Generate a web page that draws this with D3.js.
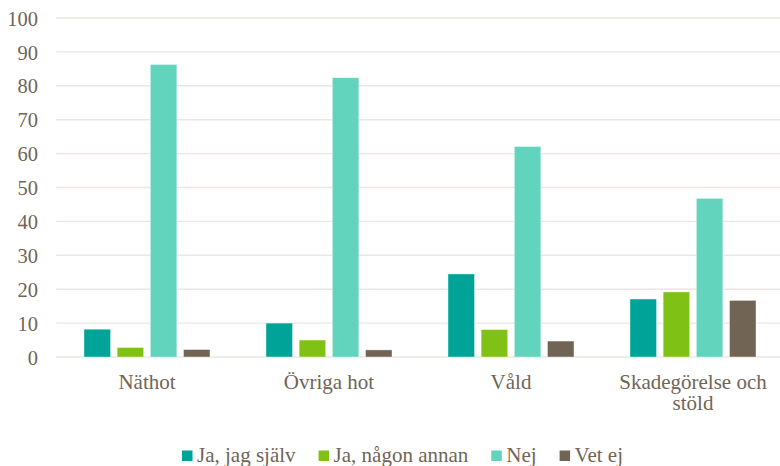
<!DOCTYPE html>
<meta charset="utf-8">
<body style="margin:0">
<script src="https://d3js.org/d3.v7.min.js"></script>
<script>

// Chart data
var categories = ['Näthot', 'Övriga hot', 'Våld', 'Skadegörelse och stöld'];
var categoryLines = [['Näthot'], ['Övriga hot'], ['Våld'], ['Skadegörelse och', 'stöld']];
var seriesNames = ['Ja, jag själv', 'Ja, någon annan', 'Nej', 'Vet ej'];
var jaSjalv = [8.2, 10.0, 24.5, 17.1];
var jaAnnan = [2.8, 5.0, 8.1, 19.2];
var nej = [86.3, 82.4, 62.1, 46.8];
var vetEj = [2.2, 2.1, 4.7, 16.7];
var yTicks = [0, 10, 20, 30, 40, 50, 60, 70, 80, 90, 100];

var colors = ['#00a398', '#80c115', '#62d3bd', '#716454'];
var allSeries = [jaSjalv, jaAnnan, nej, vetEj];

var textColor = '#6f6557';
var width = 780, height = 466;

var svg = d3.select('body').append('svg')
    .attr('width', width)
    .attr('height', height);

var x0 = d3.scaleBand()
    .domain(categories)
    .range([56, 784]);

var x1 = d3.scaleBand()
    .domain(seriesNames)
    .range([28, 154])
    .paddingInner(0.2);

var y = d3.scaleLinear()
    .domain([0, 100])
    .range([357, 18]);

// gridlines
svg.append('g')
    .selectAll('line')
    .data(yTicks)
    .enter().append('line')
    .attr('x1', 56)
    .attr('x2', width)
    .attr('y1', function(d) { return y(d); })
    .attr('y2', function(d) { return y(d); })
    .attr('stroke', '#ebe6e3')
    .attr('stroke-width', 1.4);

// y axis labels
var yAxis = d3.axisLeft(y).tickValues(yTicks).tickSize(0).tickPadding(0);
var yg = svg.append('g')
    .attr('transform', 'translate(38,0)')
    .call(yAxis)
    .attr('font-family', null)
    .attr('font-size', null);
yg.select('.domain').remove();
yg.selectAll('text')
    .attr('dy', '0.35em')
    .attr('fill', textColor)
    .style('font-family', "'Liberation Serif'")
    .style('font-size', '20.5px');

// bars
var groups = svg.append('g')
    .selectAll('g')
    .data(categories)
    .enter().append('g')
    .attr('transform', function(d) { return 'translate(' + x0(d) + ',0)'; });

groups.selectAll('rect')
    .data(function(d, i) {
        return seriesNames.map(function(s, j) {
            return {series: s, value: allSeries[j][i], color: colors[j]};
        });
    })
    .enter().append('rect')
    .attr('x', function(d) { return x1(d.series); })
    .attr('width', x1.bandwidth())
    .attr('y', function(d) { return y(d.value); })
    .attr('height', function(d) { return y(0) - y(d.value); })
    .attr('fill', function(d) { return d.color; })
    .attr('stroke', '#ffffff')
    .attr('stroke-opacity', 0.5)
    .attr('stroke-width', 0.8);

// category labels, one text per line
categories.forEach(function(c, i) {
    categoryLines[i].forEach(function(line, k) {
        svg.append('text')
            .attr('text-anchor', 'middle')
            .attr('x', x0(c) + x0.bandwidth() / 2)
            .attr('y', 389 + k * 21)
            .attr('fill', textColor)
            .style('font-family', "'Liberation Serif'")
            .style('font-size', '21px')
            .text(line);
    });
});

// legend
var legend = svg.append('g');
var lx = 182;
seriesNames.forEach(function(name, i) {
    legend.append('rect')
        .attr('x', lx)
        .attr('y', 450.5)
        .attr('width', 10.5)
        .attr('height', 10.5)
        .attr('fill', colors[i]);
    var t = legend.append('text')
        .attr('x', lx + 15)
        .attr('y', 462)
        .attr('fill', textColor)
        .style('font-family', "'Liberation Serif'")
        .style('font-size', '21px')
        .text(name);
    lx = lx + 15 + t.node().getComputedTextLength() + 23;
});

</script>
</body>
